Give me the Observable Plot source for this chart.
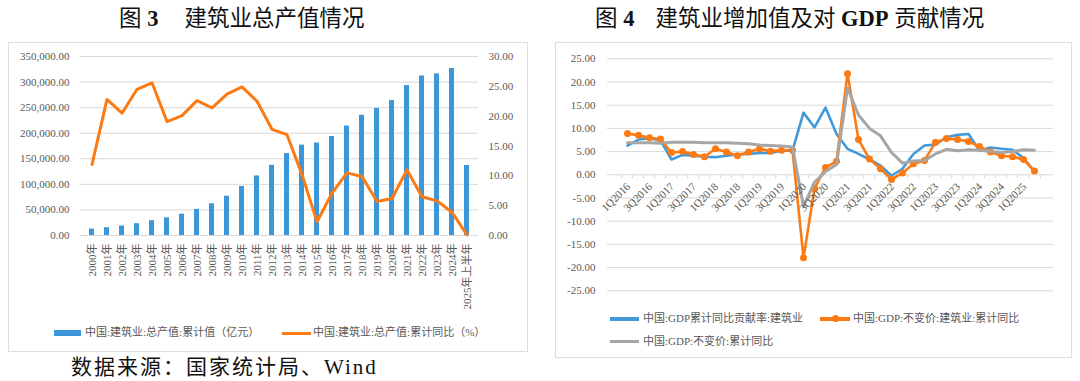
<!DOCTYPE html>
<html><head><meta charset="utf-8">
<script src="https://cdn.jsdelivr.net/npm/d3@7"></script>
<script src="https://cdn.jsdelivr.net/npm/@observablehq/plot@0.6"></script>
<style>
body{margin:0;background:#fff;width:1080px;height:381px;overflow:hidden;position:relative;font-family:"Liberation Serif","Noto Sans CJK SC",serif;}
.box{position:absolute;border:1px solid #dcdcdc;box-sizing:border-box;}
.title{position:absolute;font-size:22.5px;color:#111;white-space:pre;line-height:1;}
.title b{font-family:"Liberation Serif",serif;font-weight:bold;}
.leg{position:absolute;font-size:11px;color:#595959;white-space:nowrap;line-height:1;}
.sw{position:absolute;}
.chart{position:absolute;}
.caption{position:absolute;font-size:21px;letter-spacing:2px;color:#111;white-space:nowrap;line-height:1;}
</style></head><body>
<div class="title" style="left:119px;top:8px">图 <b>3</b><span style="display:inline-block;width:26px"></span>建筑业总产值情况</div>
<div class="title" style="left:595px;top:8px">图 <b>4</b><span style="display:inline-block;width:21px"></span>建筑业增加值及对 <b>GDP</b> 贡献情况</div>
<div class="box" style="left:8px;top:42px;width:520px;height:310px"></div>
<div class="box" style="left:555px;top:42px;width:517px;height:316px"></div>
<div id="left" class="chart" style="left:8px;top:42px"></div>
<div id="right" class="chart" style="left:555px;top:42px"></div>

<div class="sw" style="left:54px;top:330px;width:27px;height:6px;background:#3b97d9"></div>
<div class="leg" style="left:85px;top:327px">中国:建筑业:总产值:累计值（亿元）</div>
<div class="sw" style="left:282px;top:331.5px;width:29px;height:3px;background:#fd7a13"></div>
<div class="leg" style="left:313px;top:327px">中国:建筑业:总产值:累计同比（%）</div>

<div class="sw" style="left:610px;top:317px;width:29px;height:3.5px;background:#4299d9"></div>
<div class="leg" style="left:643px;top:313px">中国:GDP累计同比贡献率:建筑业</div>
<div class="sw" style="left:820px;top:317px;width:30px;height:3.5px;background:#fd7a13"></div>
<div class="sw" style="left:831.5px;top:315px;width:7px;height:7px;border-radius:50%;background:#fd7a13"></div>
<div class="leg" style="left:853px;top:313px">中国:GDP:不变价:建筑业:累计同比</div>
<div class="sw" style="left:610px;top:339.5px;width:29px;height:3.5px;background:#a6a6a6"></div>
<div class="leg" style="left:643px;top:335.5px">中国:GDP:不变价:累计同比</div>

<div class="caption" style="left:71px;top:357px">数据来源：国家统计局、Wind</div>

<script>
// ---------- Figure 3 data ----------
const years = ["2000年","2001年","2002年","2003年","2004年","2005年","2006年","2007年","2008年","2009年",
  "2010年","2011年","2012年","2013年","2014年","2015年","2016年","2017年","2018年","2019年",
  "2020年","2021年","2022年","2023年","2024年","2025年上半年"];
const outputValue = [12498,15362,18527,23084,29021,34552,41557,51044,62037,76808,
  96031,116463,137218,160366,176713,180757,193567,213944,235086,248446,
  263947,293079,311980,315912,326501,136973];
const outputGrowth = [11.9,22.8,20.5,24.5,25.6,19.1,20.1,22.6,21.4,23.7,
  24.9,22.5,17.8,16.9,10.2,2.3,7.1,10.5,9.9,5.7,
  6.2,11.0,6.5,5.8,3.9,0.1];
const leftTicks = [0,50000,100000,150000,200000,250000,300000,350000];
const rightTicks = [0,5,10,15,20,25,30];

// ---------- Figure 4 data ----------
const quarters = ["1Q2016","2Q2016","3Q2016","4Q2016","1Q2017","2Q2017","3Q2017","4Q2017",
  "1Q2018","2Q2018","3Q2018","4Q2018","1Q2019","2Q2019","3Q2019","4Q2019",
  "1Q2020","2Q2020","3Q2020","4Q2020","1Q2021","2Q2021","3Q2021","4Q2021",
  "1Q2022","2Q2022","3Q2022","4Q2022","1Q2023","2Q2023","3Q2023","4Q2023",
  "1Q2024","2Q2024","3Q2024","4Q2024","1Q2025","2Q2025"];
const contribution = [6.3,7.6,7.9,7.4, 3.3,4.3,4.1,3.9, 3.8,4.1,4.4,4.5, 4.7,4.7,5.2,5.2,
  13.4,10.2,14.5,8.8, 5.6,4.5,3.3,2.0, -0.2,1.3,4.5,6.3, 6.5,8.1,8.6,8.8,
  5.2,5.9,5.6,5.4, 3.6,0.7];
const constructionGrowth = [8.9,8.5,8.0,7.7, 4.8,5.0,4.4,3.9, 5.6,4.9,4.1,4.9, 5.6,5.1,5.3,5.3,
  -17.9,-3.0,1.6,2.9, 21.8,7.6,3.4,1.3, -1.0,0.4,2.4,3.1, 7.0,7.8,7.6,7.2,
  6.1,4.9,4.1,3.9, 3.3,0.8];
const gdpGrowth = [6.9,6.9,6.9,6.8, 7.0,7.0,7.0,6.9, 6.9,6.9,6.8,6.7, 6.4,6.3,6.2,6.0,
  -6.8,-1.6,0.7,2.2, 18.7,12.9,10.0,8.4, 4.8,2.5,3.0,3.1, 4.5,5.5,5.2,5.4,
  5.3,5.0,4.8,5.0, 5.4,5.3];
const yTicks4 = [-25,-20,-15,-10,-5,0,5,10,15,20,25];

const FONT = '"Liberation Serif","Noto Sans CJK SC",serif';
const BLUE = "#4299d9", BAR = "#3b97d9", ORANGE = "#fd7a13", GRAY = "#a6a6a6", GRID = "#d9d9d9", TXT = "#595959";

// ---------- Figure 3 ----------
const K = leftTicks[leftTicks.length - 1] / rightTicks[rightTicks.length - 1];
const left = Plot.plot({
  width: 519, height: 310,
  marginLeft: 72, marginRight: 49, marginTop: 14, marginBottom: 117,
  style: {fontFamily: FONT, fontSize: "11px", color: TXT, background: "transparent"},
  x: {type: "band", domain: years, paddingInner: 0.66, paddingOuter: 0.33, axis: null},
  y: {domain: [0, leftTicks[leftTicks.length - 1]], axis: null},
  marks: [
    Plot.ruleY(leftTicks, {stroke: GRID, strokeWidth: 1}),
    Plot.barY(years, {x: d => d, y: (d, i) => outputValue[i], fill: BAR}),
    Plot.line(years, {x: d => d, y: (d, i) => outputGrowth[i] * K, stroke: ORANGE, strokeWidth: 3, strokeLinejoin: "round"}),
    Plot.axisY(leftTicks, {anchor: "left", tickFormat: d3.format(",.2f"), tickSize: 0, tickPadding: 11, label: null, fill: TXT}),
    Plot.axisY(rightTicks.map(v => v * K), {anchor: "right", tickFormat: d => (d / K).toFixed(2), tickSize: 0, tickPadding: 10, label: null, fill: TXT}),
    Plot.axisX(years, {anchor: "bottom", tickRotate: -90, tickSize: 0, tickPadding: 8, label: null, fill: TXT})
  ]
});
document.getElementById("left").appendChild(left);

// ---------- Figure 4 ----------
const W4 = 516, ML4 = 52, MR4 = 18;
const step = (W4 - ML4 - MR4) / quarters.length;
const right = Plot.plot({
  width: W4, height: 262,
  marginLeft: ML4, marginRight: MR4, marginTop: 16.3, marginBottom: 13.7,
  style: {fontFamily: FONT, fontSize: "11px", color: TXT, background: "transparent"},
  x: {type: "point", domain: quarters, padding: 0.5, axis: null},
  y: {domain: [yTicks4[0], yTicks4[yTicks4.length - 1]], axis: null},
  marks: [
    Plot.ruleY(yTicks4, {stroke: GRID, strokeWidth: 1}),
    Plot.ruleX(quarters, {x: d => d, y1: 0, y2: -0.9, dx: -step / 2, stroke: GRID}),
    Plot.ruleX(quarters.slice(-1), {x: d => d, y1: 0, y2: -0.9, dx: step / 2, stroke: GRID}),
    Plot.axisY(yTicks4, {anchor: "left", tickFormat: d => d.toFixed(2), tickSize: 0, tickPadding: 12, label: null, fill: TXT}),
    Plot.line(quarters, {x: d => d, y: (d, i) => contribution[i], stroke: BLUE, strokeWidth: 2.6, strokeLinejoin: "round"}),
    Plot.line(quarters, {x: d => d, y: (d, i) => constructionGrowth[i], stroke: ORANGE, strokeWidth: 2.6, strokeLinejoin: "round"}),
    Plot.dot(quarters, {x: d => d, y: (d, i) => constructionGrowth[i], r: 3.5, fill: ORANGE}),
    Plot.line(quarters, {x: d => d, y: (d, i) => gdpGrowth[i], stroke: GRAY, strokeWidth: 3, strokeLinejoin: "round"}),
    Plot.text(quarters.filter((d, i) => i % 2 === 0), {x: d => d, y: 0, text: d => d, rotate: -45, textAnchor: "end", dx: 1, dy: 10, fontSize: 11, fill: TXT})
  ]
});
document.getElementById("right").appendChild(right);
</script>
</body></html>
